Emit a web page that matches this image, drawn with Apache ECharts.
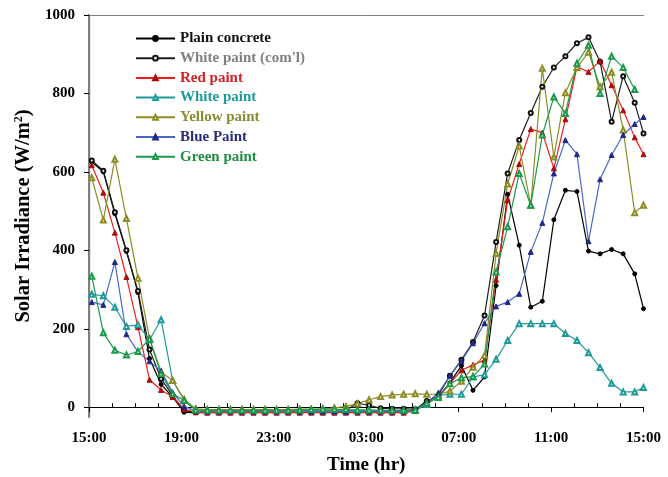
<!DOCTYPE html>
<html>
<head>
<meta charset="utf-8">
<script src="https://cdn.jsdelivr.net/npm/echarts@6/dist/echarts.min.js"></script>
<style>
  html, body { margin: 0; padding: 0; background: #fff; }
  #chart { width: 668px; height: 477px; }
</style>
</head>
<body>
<div id="chart"></div>
<script>
// Reading times, in hours elapsed since 15:00 on the first day
const hours = [0.12, 0.62, 1.12, 1.62, 2.12, 2.62, 3.12, 3.62, 4.12, 4.62,
  5.12, 5.62, 6.12, 6.62, 7.12, 7.62, 8.12, 8.62, 9.12, 9.62,
  10.12, 10.62, 11.12, 11.62, 12.12, 12.62, 13.12, 13.62, 14.12, 14.62,
  15.12, 15.62, 16.12, 16.62, 17.12, 17.62, 18.12, 18.62, 19.12, 19.62,
  20.12, 20.62, 21.12, 21.62, 22.12, 22.62, 23.12, 23.62, 24];

// Solar irradiance, W/m2
const plainConcrete = [625, 600, 493, 397, 292, 124, 58, 26, -13,
  -14, -14, -13, -13, -13, -13, -13, -12, -12, -12, -12, -12, -12, -12, -11, -11, -11, -10, -10, -8,
  17, 26, 62, 106, 43, 77, 310, 543, 413, 255, 270, 478, 553, 550, 398, 391, 402, 391, 340, 251];

const whitePaintComl = [629, 603, 497, 400, 296, 147, 72, 30, -10,
  -12, -12, -12, -12, -11, -11, -11, -11, -11, -11, -11, -10, -10, -8,
  10, 5, -3, -4, -4, -5,
  15, 30, 80, 121, 166, 234, 421, 596, 681, 750, 817, 866, 895, 928, 943, 881, 728, 844, 776, 698];

const redPaint = [617, 547, 445, 332, 204, 70, 44, 26, -5,
  -13, -14, -14, -14, -14, -14, -14, -14, -14, -14, -14, -14, -14, -14, -14, -14, -14, -14, -14, -10,
  10, 28, 60, 94, 108, 120, 325, 528, 620, 709, 700, 609, 734, 868, 855, 883, 821, 757, 688, 645];

const whitePaint = [288, 284, 255, 206, 210, 172, 223, 68, 17,
  -7, -9, -9, -9, -9, -9, -9, -9, -9, -9, -9, -9, -9, -9, -9, -9, -9, -9, -9, -8,
  7, 30, 33, 33, 77, 83, 122, 170, 213, 213, 213, 213, 188, 170, 139, 101, 61, 39, 39, 50];

const yellowPaint = [585, 477, 632, 481, 329, 175, 90, 68, 20,
  -4, -6, -6, -6, -6, -6, -6, -6, -6, -5, -5, -4, -2,
  2, 9, 19, 27, 31, 33, 34, 33, 33, 41, 66, 102, 132, 392, 569, 666, 515, 864, 638, 802, 866, 905, 817, 854, 707, 496, 515];

const bluePaint = [268, 261, 370, 186, 141, 117, 92, 38, 2,
  -10, -11, -11, -11, -11, -11, -11, -11, -11, -11, -11, -11, -11, -11, -11, -11, -11, -11, -10, -6,
  12, 36, 80, 118, 163, 214, 257, 268, 289, 396, 470, 596, 681, 645, 423, 581, 643, 694, 722, 740];

const greenPaint = [334, 190, 145, 133, 142, 174, 85, 34, 17,
  -7, -8, -8, -8, -8, -8, -8, -8, -8, -7, -6, -5, -5, -6, -7, -7, -8, -8, -8, -7,
  10, 25, 60, 75, 78, 110, 345, 460, 596, 515, 694, 791, 749, 877, 923, 800, 895, 866, 810];

// Axis ticks
const timeTickLabels = ['15:00', '19:00', '23:00', '03:00', '07:00', '11:00', '15:00'];
const hourMinorTicks = [1, 2, 3, 5, 6, 7, 9, 10, 11, 13, 14, 15, 17, 18, 19, 21, 22, 23];
const irradianceTicks = [0, 200, 400, 600, 800, 1000];

const FONT = '"Liberation Serif", "Times New Roman", serif';

function pairs(values) {
  return values.map((v, i) => [hours[i], v]);
}

const seriesDefs = [
  { name: 'Plain concrete', data: plainConcrete, line: '#000000', mark: '#000000', symbol: 'circle', size: 4, text: '#111111' },
  { name: "White paint (com'l)", data: whitePaintComl, line: '#1e1e1e', mark: '#111111', symbol: 'emptyCircle', size: 4, text: '#808080' },
  { name: 'Red paint', data: redPaint, line: '#f01c1c', mark: '#a80d0d', symbol: 'triangle', size: 5, text: '#d42027' },
  { name: 'White paint', data: whitePaint, line: '#1f9a9a', mark: '#1f9a9a', symbol: 'emptyTriangle', size: 5, text: '#1f9a9a' },
  { name: 'Yellow paint', data: yellowPaint, line: '#8c8c22', mark: '#8c8c22', symbol: 'emptyTriangle', size: 5, text: '#8a8a30' },
  { name: 'Blue Paint', data: bluePaint, line: '#4a66c8', mark: '#1e2888', symbol: 'triangle', size: 5, text: '#2b2b7e' },
  { name: 'Green paint', data: greenPaint, line: '#1c9a4c', mark: '#1c9a4c', symbol: 'emptyTriangle', size: 5, text: '#1f8c40' }
];

const chart = echarts.init(document.getElementById('chart'), null, { renderer: 'canvas' });

chart.setOption({
  animation: false,
  backgroundColor: '#ffffff',
  grid: { left: 89, right: 24.5, top: 15, bottom: 60, show: false, outerBoundsMode: 'none' },
  legend: {
    orient: 'vertical',
    left: 135,
    top: 31,
    padding: 0,
    itemWidth: 39,
    itemHeight: 6,
    itemGap: 4.7,
    textStyle: { fontFamily: FONT, fontWeight: 'bold', fontSize: 15 },
    data: seriesDefs.map(s => ({ name: s.name, textStyle: { color: s.text } }))
  },
  xAxis: [
    {
      type: 'value', min: 0, max: 24, interval: 4, position: 'bottom',
      axisLine: { show: true, lineStyle: { color: '#000', width: 1.2 } },
      axisTick: { show: true, inside: false, length: 5, lineStyle: { color: '#000', width: 1 } },
      axisLabel: {
        margin: 14, color: '#000', fontFamily: FONT, fontWeight: 'bold', fontSize: 15,
        formatter: v => timeTickLabels[Math.round(v / 4)]
      },
      splitLine: { show: false },
      name: 'Time (hr)', nameLocation: 'middle', nameGap: 39,
      nameTextStyle: { fontFamily: FONT, fontWeight: 'bold', fontSize: 19, color: '#000' }
    },
    {
      // hourly minor ticks pointing into the plot
      type: 'value', min: 0, max: 24, position: 'bottom',
      axisLine: { show: false },
      axisTick: { show: true, inside: true, length: 4, customValues: hourMinorTicks, lineStyle: { color: '#000', width: 1 } },
      axisLabel: { show: false },
      splitLine: { show: false }
    },
    {
      // top frame edge
      type: 'value', min: 0, max: 24, position: 'top',
      axisLine: { show: true, lineStyle: { color: '#808080', width: 1 } },
      axisTick: { show: false }, axisLabel: { show: false }, splitLine: { show: false }
    }
  ],
  yAxis: [
    {
      type: 'value', min: -25, max: 1000, position: 'left',
      axisLine: { show: true, lineStyle: { color: '#000', width: 1.2 } },
      axisTick: { show: true, inside: false, length: 5, customValues: irradianceTicks, lineStyle: { color: '#000', width: 1 } },
      axisLabel: {
        margin: 14, color: '#000', fontFamily: FONT, fontWeight: 'bold', fontSize: 15,
        customValues: irradianceTicks,
        formatter: v => String(v)
      },
      splitLine: { show: false },
      name: 'Solar Irradiance (W/m{sup|2})', nameLocation: 'middle', nameGap: 49, nameRotate: 90,
      nameTextStyle: {
        fontFamily: FONT, fontWeight: 'bold', fontSize: 20.5, color: '#000',
        rich: {
          sup: { fontFamily: FONT, fontWeight: 'bold', fontSize: 12, color: '#000', verticalAlign: 'top', padding: [0, 0, 8, 0] }
        }
      }
    },
    {
      // right frame edge
      type: 'value', min: -25, max: 1000, position: 'right',
      axisLine: { show: true, lineStyle: { color: '#808080', width: 2 } },
      axisTick: { show: false }, axisLabel: { show: false }, splitLine: { show: false }
    }
  ],
  series: seriesDefs.map(s => ({
    name: s.name,
    type: 'line',
    xAxisIndex: 0,
    yAxisIndex: 0,
    data: pairs(s.data),
    symbol: s.symbol,
    symbolSize: s.size,
    showAllSymbol: true,
    lineStyle: { color: s.line, width: 1.2 },
    itemStyle: { color: s.mark, borderColor: s.mark, borderWidth: 1 },
    emphasis: { disabled: true }
  }))
});
</script>
</body>
</html>
